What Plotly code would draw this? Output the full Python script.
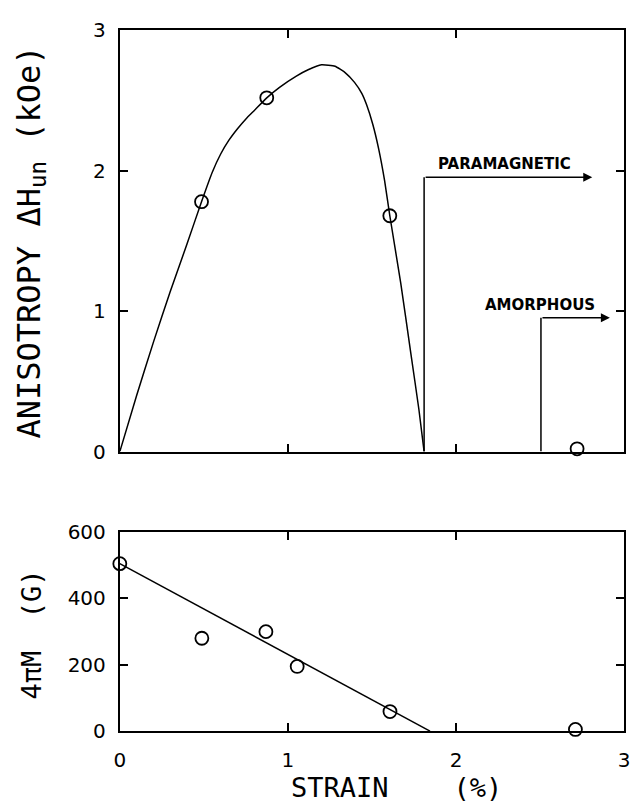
import plotly.graph_objects as go

# ---- Data ----
# Top panel: anisotropy vs strain
aniso_strain = [0.486, 0.874, 1.606, 2.72]
aniso_values = [1.78, 2.52, 1.68, 0.02]
aniso_curve_x = [0, 0.1, 0.2, 0.3, 0.4, 0.486, 0.55, 0.6, 0.65, 0.7, 0.75, 0.8, 0.874,
                 0.95, 1.05, 1.12, 1.2, 1.28, 1.34, 1.396, 1.44, 1.468, 1.505, 1.539,
                 1.575, 1.606, 1.671, 1.731, 1.779, 1.81]
aniso_curve_y = [0, 0.40, 0.78, 1.14, 1.48, 1.78, 1.99, 2.12, 2.22, 2.30, 2.37, 2.43, 2.52,
                 2.595, 2.675, 2.72, 2.755, 2.745, 2.70, 2.63, 2.55, 2.47, 2.33, 2.16,
                 1.93, 1.68, 1.20, 0.70, 0.30, 0]

# Region markers: [start strain, bracket height, arrow end strain]
para_marker = [1.81, 1.955, 2.81]
amor_marker = [2.505, 0.954, 2.915]

# Bottom panel: 4piM vs strain
mag_strain = [0.0, 0.488, 0.869, 1.055, 1.607, 2.71]
mag_values = [505, 280, 300, 195, 59, 5]
mag_fit_x = [0.0, 1.845]
mag_fit_y = [505, 0]

x_ticks = [0, 1, 2, 3]
top_y_ticks = [0, 1, 2, 3]
bot_y_ticks = [0, 200, 400, 600]

FONT = "DejaVu Sans"
MONO = "DejaVu Sans Mono"
BLACK = "black"

fig = go.Figure()

# top panel
fig.add_trace(go.Scatter(x=aniso_curve_x, y=aniso_curve_y, mode="lines",
                         line=dict(color=BLACK, width=1.5, shape="spline", smoothing=0.4),
                         xaxis="x", yaxis="y", cliponaxis=False, showlegend=False))
fig.add_trace(go.Scatter(x=aniso_strain, y=aniso_values, mode="markers",
                         marker=dict(symbol="circle-open", size=13, color=BLACK,
                                     line=dict(width=1.8, color=BLACK)),
                         xaxis="x", yaxis="y", cliponaxis=False, showlegend=False))
for m in (para_marker, amor_marker):
    fig.add_trace(go.Scatter(x=[m[0], m[0]], y=[0, m[1]], mode="lines",
                             line=dict(color=BLACK, width=1.5),
                             xaxis="x", yaxis="y", cliponaxis=False, showlegend=False))

# bottom panel
fig.add_trace(go.Scatter(x=mag_fit_x, y=mag_fit_y, mode="lines",
                         line=dict(color=BLACK, width=1.5),
                         xaxis="x2", yaxis="y2", cliponaxis=False, showlegend=False))
fig.add_trace(go.Scatter(x=mag_strain, y=mag_values, mode="markers",
                         marker=dict(symbol="circle-open", size=13, color=BLACK,
                                     line=dict(width=1.8, color=BLACK)),
                         xaxis="x2", yaxis="y2", cliponaxis=False, showlegend=False))

W, H = 639, 812
xdom = [116 / W, 630 / W]
top_dom = [1 - 453 / H, 1 - 19 / H]
bot_dom = [1 - 741 / H, 1 - 536 / H]

axis_common = dict(showline=True, linecolor=BLACK, linewidth=2, mirror="allticks",
                   ticks="inside", ticklen=8, tickwidth=1.5, tickcolor=BLACK,
                   showgrid=False, zeroline=False,
                   tickfont=dict(family=FONT, size=20, color=BLACK))

fig.update_layout(
    width=W, height=H, margin=dict(l=0, r=0, t=0, b=0),
    paper_bgcolor="white", plot_bgcolor="white",
    xaxis=dict(domain=xdom, range=[0, 3], tickvals=x_ticks, showticklabels=False,
               anchor="y", **axis_common),
    yaxis=dict(domain=top_dom, range=[0, 3], tickvals=top_y_ticks, anchor="x",
               ticklabelstandoff=8, **axis_common),
    xaxis2=dict(domain=xdom, range=[0, 3], tickvals=x_ticks, anchor="y2",
                ticklabelstandoff=10, **axis_common),
    yaxis2=dict(domain=bot_dom, range=[0, 600], tickvals=bot_y_ticks, anchor="x2",
                ticklabelstandoff=8, **axis_common),
)

annotations = [
    # arrows
    dict(x=para_marker[2], y=para_marker[1], ax=para_marker[0], ay=para_marker[1],
         xref="x", yref="y", axref="x", ayref="y", showarrow=True, arrowhead=2,
         arrowsize=1.2, arrowwidth=1.5, arrowcolor=BLACK, text=""),
    dict(x=amor_marker[2], y=amor_marker[1], ax=amor_marker[0], ay=amor_marker[1],
         xref="x", yref="y", axref="x", ayref="y", showarrow=True, arrowhead=2,
         arrowsize=1.2, arrowwidth=1.5, arrowcolor=BLACK, text=""),
    dict(x=2.29, y=2.05, xref="x", yref="y", text="<b>PARAMAGNETIC</b>", showarrow=False,
         xanchor="center", yanchor="middle",
         font=dict(family=FONT, size=15, color=BLACK)),
    dict(x=2.50, y=1.045, xref="x", yref="y", text="<b>AMORPHOUS</b>", showarrow=False,
         xanchor="center", yanchor="middle",
         font=dict(family=FONT, size=15, color=BLACK)),
    # axis titles
    dict(x=25 / W, y=1 - 237 / H, xref="paper", yref="paper",
         xanchor="center", yanchor="middle",
         text="ANISOTROPY ΔH<sub>un</sub> (kOe)", textangle=-90, showarrow=False,
         font=dict(family=MONO, size=32, color=BLACK)),
    dict(x=25 / W, y=1 - 642 / H, xref="paper", yref="paper",
         xanchor="center", yanchor="middle",
         text="4πM  (G)", textangle=-90, showarrow=False,
         font=dict(family=MONO, size=27, color=BLACK)),
    dict(x=398 / W, y=1 - 799 / H, xref="paper", yref="paper",
         xanchor="center", yanchor="middle",
         text="STRAIN    (%)", showarrow=False,
         font=dict(family=MONO, size=27, color=BLACK)),
]
fig.update_layout(annotations=annotations)

fig.write_html("out.html")
